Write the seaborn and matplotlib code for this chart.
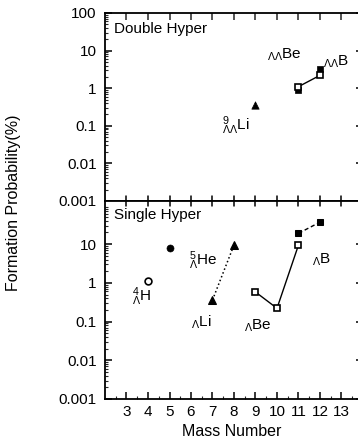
import numpy as np
import pandas as pd
import matplotlib
matplotlib.use("Agg")
import matplotlib.pyplot as plt
import seaborn as sns
from matplotlib.ticker import LogLocator, NullFormatter, FixedLocator

# ---- data ----
# Double hypernuclei panel
dd_tri_mass = [9]
dd_tri_prob = [0.36]
dd_open_sq_mass = [11, 12]
dd_open_sq_prob = [1.1, 2.2]
dd_fill_sq_mass = [11, 12]
dd_fill_sq_prob = [0.9, 3.3]

# Single hypernuclei panel
s_open_circ_mass = [4]
s_open_circ_prob = [1.1]
s_fill_circ_mass = [5]
s_fill_circ_prob = [8.0]
s_tri_mass = [7, 8]
s_tri_prob = [0.36, 9.5]
s_open_sq_mass = [9, 10, 11]
s_open_sq_prob = [0.58, 0.22, 9.5]
s_fill_sq_mass = [11, 12]
s_fill_sq_prob = [19.0, 37.0]

x_ticks = [3, 4, 5, 6, 7, 8, 9, 10, 11, 12, 13]
y_ticks_top = [0.001, 0.01, 0.1, 1, 10, 100]
y_labels_top = ["0.001", "0.01", "0.1", "1", "10", "100"]
y_ticks_bot = [0.001, 0.01, 0.1, 1, 10]
y_labels_bot = ["0.001", "0.01", "0.1", "1", "10"]

sns.set_theme(style="ticks")
plt.rcParams['font.family'] = ['Liberation Sans', 'DejaVu Sans']
plt.rcParams['mathtext.fontset'] = 'custom'
plt.rcParams['mathtext.rm'] = 'Liberation Sans'
plt.rcParams['mathtext.it'] = 'Liberation Sans:italic'
plt.rcParams['mathtext.bf'] = 'Liberation Sans:bold'

FS = 11
fig = plt.figure(figsize=(3.58, 4.42), dpi=100)
L = 105 / 358
W = (363 - 105) / 358
ax1 = fig.add_axes([L, 1 - 201 / 442, W, (201 - 13) / 442])
ax2 = fig.add_axes([L, 1 - 399 / 442, W, (399 - 201) / 442])

black = "black"

def style_axis(ax, ylim, yt, yl):
    ax.set_yscale("log")
    ax.set_xlim(2, 14)
    ax.set_ylim(*ylim)
    for s in ax.spines.values():
        s.set_linewidth(1.3)
        s.set_color(black)
    ax.yaxis.set_major_locator(FixedLocator(yt))
    ax.set_yticklabels(yl)
    ax.yaxis.set_minor_locator(LogLocator(base=10, subs=np.arange(2, 10) * 1.0, numticks=20))
    ax.yaxis.set_minor_formatter(NullFormatter())
    ax.set_xticks(x_ticks)
    ax.tick_params(axis="y", which="major", direction="in", length=5, width=1.1,
                   right=True, labelsize=FS, pad=6, colors=black)
    ax.tick_params(axis="y", which="minor", direction="in", length=2.5, width=0.8,
                   right=False)
    ax.grid(False)
    ax.set_xlabel("")
    ax.set_ylabel("")

# ---- top panel ----
style_axis(ax1, (0.001, 100), y_ticks_top, y_labels_top)
ax1.tick_params(axis="x", which="major", direction="in", length=5, width=1.1,
                top=True, bottom=False, labelbottom=False)

sns.lineplot(x=dd_open_sq_mass, y=dd_open_sq_prob, ax=ax1, color=black, lw=1.0,
             marker="s", markersize=5, markerfacecolor="white", markeredgecolor=black,
             markeredgewidth=1.2)
sns.scatterplot(x=dd_fill_sq_mass, y=dd_fill_sq_prob, ax=ax1, color=black, marker="s",
                s=22, edgecolor=black, linewidth=0.5, zorder=1)
sns.scatterplot(x=dd_tri_mass, y=dd_tri_prob, ax=ax1, color=black, marker="^",
                s=28, edgecolor=black, linewidth=0.5)

ax1.text(0.035, 0.915, "Double Hyper", transform=ax1.transAxes, fontsize=FS,
         ha="left", va="center", color=black)
ax1.text(7.45, 0.075, r"${}^{9}_{\Lambda\Lambda}\mathrm{Li}$", fontsize=FS, color=black)
ax1.text(9.55, 6.0, r"${}_{\Lambda\Lambda}\mathrm{Be}$", fontsize=FS, color=black)
ax1.text(12.15, 4.0, r"${}_{\Lambda\Lambda}\mathrm{B}$", fontsize=FS, color=black)

# ---- bottom panel ----
style_axis(ax2, (0.001, 130), y_ticks_bot, y_labels_bot)
ax2.set_xticks(np.arange(2.5, 14, 1.0), minor=True)
ax2.tick_params(axis="x", which="major", direction="in", length=5, width=1.1,
                top=False, bottom=True, labelsize=FS, pad=4, colors=black)
ax2.tick_params(axis="x", which="minor", direction="in", length=2, width=0.8,
                top=False, bottom=True)
ax2.set_xticklabels([str(v) for v in x_ticks])
# cross ticks on the shared boundary
for x in x_ticks:
    ax2.plot([x, x], [130 / 10 ** 0.13, 130], color=black, lw=1.1, clip_on=False)
    ax1.plot([x, x], [0.001, 0.001 * 10 ** 0.13], color=black, lw=1.1, clip_on=False)

sns.scatterplot(x=s_open_circ_mass, y=s_open_circ_prob, ax=ax2, marker="o", s=24,
                facecolor="white", edgecolor=black, linewidth=1.2)
sns.scatterplot(x=s_fill_circ_mass, y=s_fill_circ_prob, ax=ax2, marker="o", s=26,
                color=black, edgecolor=black)
sns.lineplot(x=s_tri_mass, y=s_tri_prob, ax=ax2, color=black, lw=1.1, linestyle=":",
             marker="^", markersize=6, markerfacecolor=black, markeredgecolor=black)
sns.lineplot(x=s_open_sq_mass, y=s_open_sq_prob, ax=ax2, color=black, lw=1.0,
             marker="s", markersize=5, markerfacecolor="white", markeredgecolor=black,
             markeredgewidth=1.2)
sns.lineplot(x=s_fill_sq_mass, y=s_fill_sq_prob, ax=ax2, color=black, lw=1.0,
             linestyle=(0, (3, 2)), marker="s", markersize=5, markerfacecolor=black,
             markeredgecolor=black)

ax2.text(0.035, 0.93, "Single Hyper", transform=ax2.transAxes, fontsize=FS,
         ha="left", va="center", color=black)
ax2.text(3.25, 0.33, r"${}^{4}_{\Lambda}\mathrm{H}$", fontsize=FS, color=black)
ax2.text(5.9, 2.9, r"${}^{5}_{\Lambda}\mathrm{He}$", fontsize=FS, color=black)
ax2.text(6.0, 0.075, r"${}_{\Lambda}\mathrm{Li}$", fontsize=FS, color=black)
ax2.text(8.45, 0.062, r"${}_{\Lambda}\mathrm{Be}$", fontsize=FS, color=black)
ax2.text(11.65, 3.1, r"${}_{\Lambda}\mathrm{B}$", fontsize=FS, color=black)

fig.text(232 / 358, 1 - 431 / 442, "Mass Number", ha="center", va="center",
         fontsize=11.5, color=black)
fig.text(14 / 358, 1 - 203 / 442, "Formation Probability(%)", rotation=90,
         ha="center", va="center", fontsize=11.5, color=black)

fig.savefig("out.png", dpi=100)
